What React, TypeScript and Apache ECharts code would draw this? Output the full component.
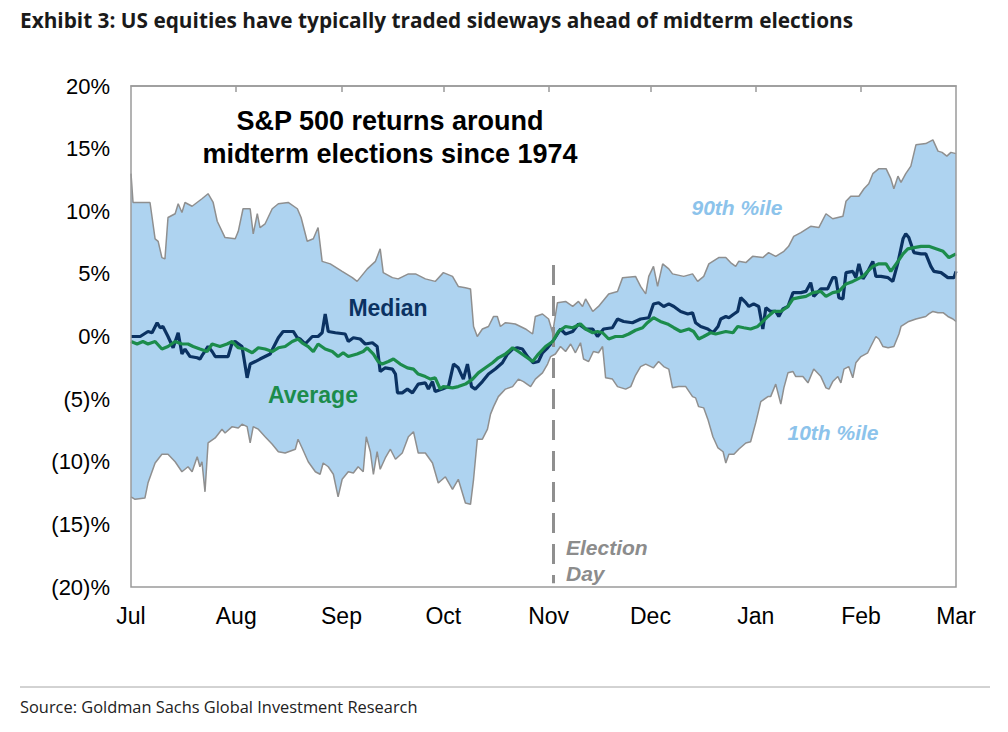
import React, { useEffect, useRef } from "react";
import * as echarts from "echarts";

// x values are calendar days counted from 1 July; y values are % returns
const monthDays = [0, 31, 62, 92, 123, 153, 184, 215, 243];
const monthNames = ["Jul", "Aug", "Sep", "Oct", "Nov", "Dec", "Jan", "Feb", "Mar"];
const electionDay = 124.4;
const electionTop = 5.7;
const electionBottom = -19.7;

const p90: [number, number][] = [
  [0, 13.0], [0.6, 10.7], [5.6, 10.7], [7.1, 7.8], [8.0, 7.6], [9.1, 6.3], [10.0, 6.2], [10.9, 9.5], [13.0, 9.8], [13.9, 10.6],
  [15.0, 9.9], [15.9, 10.7], [18.0, 10.4], [20.9, 11.0], [22.7, 11.4], [24.2, 10.7], [25.4, 9.2], [27.7, 7.9], [30.7, 7.8], [31.6, 8.4],
  [33.0, 10.2], [35.1, 10.2], [36.0, 8.2], [37.2, 9.8], [38.0, 8.7], [39.5, 9.0], [41.6, 10.2], [43.4, 10.6], [46.3, 10.7], [49.0, 10.2],
  [50.1, 9.5], [51.9, 7.6], [53.7, 7.8], [55.1, 8.7], [56.3, 6.0], [58.7, 5.8], [62.2, 5.2], [65.2, 4.7], [66.6, 4.4], [69.6, 5.4],
  [72.0, 6.0], [73.4, 7.0], [74.3, 5.1], [77.0, 4.7], [78.7, 4.6], [81.7, 5.0], [83.8, 5.0], [86.7, 4.6], [89.6, 4.4], [92.0, 5.1],
  [94.7, 4.8], [96.4, 4.0], [98.5, 3.9], [100.0, 3.8], [100.9, 0.8], [102.0, 0.0], [103.5, 0.6], [105.3, 0.8], [106.8, 1.6], [107.9, 1.6],
  [108.8, 0.8], [110.3, 1.1], [113.2, 1.0], [116.2, 0.6], [118.3, 0.2], [119.1, 1.6], [121.2, 1.8], [123.0, 1.4], [124.2, 0.3], [125.6, 2.7],
  [128.0, 2.8], [130.1, 2.4], [131.8, 2.8], [133.0, 2.4], [133.9, 3.0], [136.0, 2.0], [137.7, 2.4], [140.7, 3.4], [143.3, 3.6], [144.8, 4.7],
  [148.6, 4.8], [150.1, 4.0], [151.6, 3.4], [152.5, 4.8], [153.9, 5.6], [155.1, 4.0], [156.6, 5.8], [158.4, 5.4], [159.5, 5.0], [162.8, 4.8],
  [165.4, 5.0], [166.9, 4.4], [168.7, 4.8], [170.2, 5.8], [173.1, 6.3], [175.2, 6.3], [176.6, 5.9], [178.1, 5.6], [179.0, 6.0], [181.1, 5.9],
  [183.1, 6.4], [186.1, 6.3], [187.8, 6.7], [189.9, 6.4], [192.3, 6.8], [193.7, 7.2], [195.2, 8.0], [197.3, 8.3], [200.2, 8.8], [202.6, 8.7],
  [204.7, 9.8], [206.7, 9.4], [209.7, 9.6], [210.6, 10.8], [212.0, 11.2], [214.4, 11.2], [215.9, 11.8], [217.3, 12.2], [218.5, 13.0], [220.3, 13.4],
  [222.4, 13.4], [223.8, 12.6], [224.7, 11.8], [225.9, 12.8], [226.8, 12.3], [228.2, 13.0], [229.7, 13.6], [231.2, 15.3], [234.1, 15.4], [236.2, 15.7],
  [237.7, 14.8], [238.9, 14.7], [240.3, 14.4], [241.5, 14.7], [243, 14.6],
];

const p10: [number, number][] = [
  [0, -12.8], [1.2, -13.0], [4.1, -12.9], [5.0, -11.7], [7.1, -10.1], [9.1, -9.4], [10.9, -9.4], [13.0, -10.0], [15.0, -10.8], [16.8, -10.4],
  [18.0, -10.8], [19.5, -9.6], [20.3, -10.4], [20.9, -10.0], [21.8, -12.4], [22.7, -8.5], [24.8, -8.1], [26.8, -7.4], [27.7, -7.7], [29.8, -7.2],
  [31.6, -7.3], [32.7, -7.0], [34.2, -7.2], [35.1, -8.5], [36.0, -7.2], [37.5, -7.4], [39.5, -8.0], [41.6, -8.6], [43.4, -9.2], [45.4, -9.3],
  [48.4, -9.0], [49.2, -8.2], [50.4, -8.9], [52.2, -10.0], [54.3, -10.8], [55.7, -11.0], [56.6, -10.1], [58.1, -10.4], [59.6, -11.0], [61.0, -12.8],
  [62.2, -11.4], [64.0, -10.8], [65.5, -10.9], [66.9, -10.4], [68.4, -10.8], [69.3, -8.0], [70.5, -9.2], [71.4, -11.0], [72.5, -9.2], [73.4, -10.6],
  [74.9, -9.7], [76.4, -9.0], [77.9, -9.8], [79.9, -9.3], [81.7, -8.0], [83.2, -7.6], [84.6, -9.3], [86.7, -9.3], [88.8, -10.1], [90.5, -11.7],
  [92.6, -11.2], [94.7, -12.2], [96.4, -11.4], [98.5, -13.3], [100.0, -13.4], [100.9, -11.4], [102.0, -8.2], [103.5, -8.2], [105.0, -7.4], [105.9, -6.2],
  [106.8, -5.6], [108.2, -4.8], [110.3, -4.2], [112.4, -4.0], [114.1, -3.4], [115.6, -3.6], [117.7, -4.0], [119.1, -3.4], [121.2, -2.9], [122.7, -2.2],
  [123.6, -1.6], [125.0, -1.4], [126.5, -0.8], [128.0, -1.2], [129.5, -0.6], [130.9, -1.3], [132.4, -0.5], [133.3, -1.8], [134.8, -2.0], [136.2, -1.2],
  [137.7, -1.3], [138.9, -0.8], [139.8, -3.3], [141.8, -3.4], [143.3, -4.0], [145.7, -4.2], [147.2, -4.0], [148.6, -3.1], [150.1, -2.4], [151.6, -2.2],
  [153.9, -2.5], [155.4, -2.0], [156.9, -2.4], [158.4, -2.6], [159.5, -4.1], [161.3, -4.0], [163.4, -4.0], [165.4, -4.8], [166.3, -4.9], [167.2, -5.6],
  [168.7, -5.7], [169.9, -6.6], [171.4, -8.0], [172.9, -8.9], [174.4, -9.2], [175.2, -10.1], [176.1, -9.4], [177.6, -9.4], [179.0, -9.0], [181.1, -8.5],
  [182.5, -8.4], [184.0, -6.9], [185.5, -5.2], [187.6, -4.8], [188.4, -4.8], [189.9, -3.8], [191.4, -5.4], [192.3, -4.1], [193.5, -2.9], [195.0, -2.8],
  [195.8, -3.2], [197.9, -3.2], [199.4, -3.7], [201.1, -2.6], [203.2, -3.2], [204.7, -4.1], [205.6, -4.2], [206.7, -3.6], [208.2, -3.2], [209.1, -3.7],
  [210.0, -2.6], [211.4, -2.4], [212.6, -3.3], [213.5, -2.1], [215.0, -1.6], [217.0, -1.3], [217.9, -0.8], [219.4, 0.0], [220.3, -0.2], [221.5, -0.8],
  [223.0, -0.9], [224.7, -0.8], [226.2, 0.2], [226.8, 0.8], [229.1, 1.2], [231.2, 1.4], [234.1, 1.6], [235.0, 1.8], [236.2, 2.0], [237.7, 1.9],
  [239.2, 1.9], [240.6, 1.6], [242.1, 1.4], [243, 1.2],
];

const median: [number, number][] = [
  [0, 0.0], [2.7, 0.0], [5.0, 0.4], [6.2, 0.3], [7.7, 1.1], [8.6, 0.7], [9.4, 0.8], [10.9, 0.0], [12.4, -0.9], [13.9, 0.3],
  [15.0, -1.4], [15.9, -1.0], [17.4, -1.6], [19.5, -1.7], [20.3, -1.8], [21.2, -1.4], [22.7, -0.8], [23.9, -1.2], [24.8, -1.6], [28.6, -1.6],
  [29.8, -0.5], [30.7, -0.4], [32.7, -0.8], [34.2, -3.3], [35.1, -2.2], [36.6, -2.0], [38.0, -1.8], [39.5, -1.6], [41.0, -1.4], [41.9, -0.9],
  [43.4, -0.1], [44.8, 0.4], [47.8, 0.4], [49.0, -0.1], [49.8, -0.2], [51.3, -0.6], [53.4, 0.0], [55.1, 0.0], [56.3, 0.3], [57.2, 1.8],
  [58.1, 0.4], [60.2, 0.3], [63.1, 0.2], [64.0, -0.4], [65.5, -0.1], [67.5, -0.2], [69.0, -0.6], [71.1, -0.5], [72.5, -0.8], [73.4, -2.8],
  [74.9, -2.5], [77.0, -2.6], [77.9, -3.0], [78.5, -4.5], [79.9, -4.5], [81.4, -4.2], [82.9, -4.5], [84.6, -3.8], [86.7, -3.7], [87.6, -4.2],
  [88.8, -3.6], [89.6, -4.4], [91.7, -4.2], [93.5, -4.0], [95.0, -2.2], [96.4, -2.5], [97.9, -3.4], [99.1, -2.2], [100.3, -4.0], [101.4, -4.2],
  [103.5, -3.6], [105.3, -3.0], [107.3, -2.6], [109.4, -2.1], [110.9, -1.4], [112.4, -1.0], [113.8, -0.9], [115.3, -1.0], [116.8, -1.6], [118.5, -2.1],
  [120.0, -2.0], [121.2, -1.3], [122.7, -0.9], [124.2, -0.4], [125.6, 0.2], [126.5, 0.6], [128.0, 0.2], [130.1, 0.4], [131.8, 1.0], [133.9, 0.6],
  [136.0, 0.6], [137.4, 0.0], [139.2, 0.6], [141.8, 0.7], [143.3, 1.4], [145.1, 1.2], [147.7, 1.1], [150.1, 1.4], [152.5, 1.5], [153.9, 2.6],
  [155.4, 2.7], [156.9, 2.4], [158.4, 2.6], [159.9, 2.4], [161.9, 2.0], [164.0, 1.8], [165.4, 1.9], [166.3, 1.1], [167.8, 0.8], [169.9, 0.6],
  [171.4, 0.3], [172.9, 0.8], [173.7, 1.4], [175.2, 1.6], [176.1, 1.5], [177.6, 1.8], [178.7, 2.0], [179.6, 3.1], [181.1, 2.7], [182.0, 2.4],
  [183.4, 2.6], [184.9, 2.4], [186.1, 0.6], [187.0, 2.3], [188.4, 2.0], [189.9, 2.0], [190.8, 1.6], [192.0, 2.2], [193.5, 2.4], [195.0, 3.5],
  [197.3, 3.5], [198.8, 3.6], [200.2, 4.3], [201.1, 3.2], [203.2, 3.8], [205.2, 3.8], [206.7, 4.7], [207.6, 4.7], [208.5, 3.1], [209.7, 3.0],
  [210.6, 5.1], [212.6, 5.2], [213.5, 4.7], [214.4, 5.8], [215.6, 4.6], [217.0, 5.2], [218.5, 6.0], [219.4, 4.8], [220.9, 4.8], [223.0, 4.7],
  [224.4, 4.4], [225.9, 5.9], [227.4, 7.8], [228.2, 8.2], [229.1, 7.9], [230.6, 6.7], [232.7, 6.6], [234.1, 6.6], [235.6, 5.6], [236.5, 5.2],
  [238.6, 5.1], [240.6, 4.7], [242.4, 4.7], [243, 5.2],
];

const average: [number, number][] = [
  [0, -0.4], [1.8, -0.6], [3.5, -0.4], [5.0, -0.6], [7.1, -0.4], [9.1, -1.0], [10.9, -0.8], [13.0, -0.4], [15.0, -0.6], [16.8, -0.6],
  [18.3, -0.8], [20.3, -1.0], [22.4, -1.2], [23.9, -0.6], [26.2, -0.8], [28.3, -0.6], [29.8, -0.4], [31.6, -0.9], [33.6, -1.0], [35.7, -1.3],
  [37.5, -0.9], [39.5, -1.0], [41.6, -1.2], [43.4, -0.9], [45.4, -0.8], [47.5, -0.4], [49.2, -0.2], [50.4, -0.5], [52.2, -0.8], [53.7, -1.2],
  [55.1, -0.6], [57.2, -1.0], [59.3, -1.2], [61.0, -1.6], [62.5, -1.3], [64.0, -1.6], [66.6, -1.4], [68.4, -1.2], [69.6, -0.9], [71.4, -1.4],
  [72.8, -2.0], [74.0, -2.2], [75.8, -2.0], [77.3, -1.8], [79.3, -2.2], [81.4, -2.5], [83.2, -2.6], [84.6, -3.0], [86.7, -3.2], [88.2, -3.4],
  [89.6, -3.3], [91.1, -4.2], [92.0, -4.0], [94.7, -4.1], [96.4, -4.0], [98.5, -3.8], [100.6, -3.4], [102.3, -2.9], [104.4, -2.5], [106.5, -2.1],
  [108.2, -1.7], [110.3, -1.4], [112.4, -0.9], [114.1, -1.2], [116.2, -1.6], [118.3, -2.0], [120.0, -1.4], [122.1, -0.8], [124.2, -0.4], [125.9, 0.4],
  [128.0, 0.8], [130.1, 0.7], [132.4, 1.0], [133.9, 0.6], [136.0, 0.3], [137.4, 0.4], [138.9, 0.3], [140.7, -0.2], [142.7, 0.0], [144.8, 0.0],
  [146.6, 0.2], [148.6, 0.5], [150.7, 0.7], [152.1, 1.1], [153.9, 1.5], [155.9, 1.2], [158.0, 1.0], [159.9, 0.7], [161.9, 0.4], [164.3, 0.6],
  [165.7, 0.4], [167.2, -0.2], [168.7, 0.0], [170.7, 0.3], [172.2, 0.2], [173.7, 0.3], [175.2, 0.4], [177.3, 0.3], [178.7, 0.8], [180.5, 0.7],
  [182.5, 0.6], [184.6, 0.8], [186.1, 1.2], [187.6, 1.6], [189.3, 2.0], [191.4, 2.0], [193.5, 2.4], [195.0, 3.0], [196.7, 3.1], [198.8, 3.2],
  [200.9, 3.5], [203.2, 3.6], [204.7, 3.2], [206.7, 3.5], [208.5, 3.6], [210.6, 4.2], [212.6, 4.4], [214.1, 4.6], [215.6, 4.8], [217.0, 5.2],
  [218.5, 5.6], [220.3, 5.8], [222.4, 5.8], [223.8, 5.2], [225.9, 6.0], [227.4, 6.6], [228.8, 7.0], [230.6, 7.1], [232.7, 7.2], [235.0, 7.2],
  [237.1, 7.0], [239.2, 6.8], [240.9, 6.3], [243, 6.6],
];

const fmtPct = (v: number) => (v >= 0 ? `${v}%` : `(${-v})%`);

const AXIS_FONT = '"Liberation Sans", Arial, Helvetica, sans-serif';
const HEAD_FONT = '"Open Sans", Lato, sans-serif';
const GRAY = "#8f8f8f";

export default function App() {
  const ref = useRef<HTMLDivElement>(null);

  useEffect(() => {
    if (!ref.current) return;
    const chart = echarts.init(ref.current, undefined, { renderer: "svg" });

    const option: any = {
      animation: false,
      backgroundColor: "#ffffff",
      grid: {
        left: 131,
        right: 52,
        top: 86,
        bottom: 145,
        show: true,
        borderColor: "#9a9a9a",
        borderWidth: 1.5,
        backgroundColor: "transparent",
        z: 6,
      },
      xAxis: [
        {
          type: "value",
          min: 0,
          max: 243,
          position: "bottom",
          axisLine: { show: false },
          axisTick: { show: false },
          splitLine: { show: false },
          axisLabel: {
            customValues: monthDays,
            formatter: (v: number) => {
              const i = monthDays.indexOf(v);
              return i >= 0 ? monthNames[i] : "";
            },
            fontSize: 23,
            color: "#000",
            fontFamily: AXIS_FONT,
            margin: 17,
          },
        },
        {
          type: "value",
          min: 0,
          max: 243,
          position: "top",
          z: 3,
          axisLine: { show: true, onZero: true, lineStyle: { color: "#9a9a9a", width: 1.5 } },
          axisTick: {
            show: true,
            inside: true,
            length: 6,
            customValues: monthDays.slice(1, -1),
            lineStyle: { color: "#9a9a9a", width: 1.5 },
          },
          axisLabel: { show: false },
          splitLine: { show: false },
        },
      ],
      yAxis: {
        type: "value",
        min: -20,
        max: 20,
        interval: 5,
        axisLine: { show: false },
        axisTick: { show: false },
        splitLine: { show: false },
        axisLabel: {
          formatter: fmtPct,
          fontSize: 22,
          color: "#000",
          fontFamily: AXIS_FONT,
          margin: 21,
        },
      },
      series: [
        {
          type: "custom",
          name: "band",
          xAxisIndex: 0,
          yAxisIndex: 0,
          z: 1,
          silent: true,
          clip: true,
          data: [[0, 0]],
          renderItem: (_params: any, api: any) => {
            const pts = [
              ...p90.map((p) => api.coord(p)),
              ...p10.slice().reverse().map((p) => api.coord(p)),
            ];
            return {
              type: "polygon",
              shape: { points: pts },
              style: { fill: "#aed3f0", stroke: "none" },
            };
          },
        },
        {
          type: "line",
          name: "90th %ile",
          xAxisIndex: 0,
          data: p90,
          showSymbol: false,
          z: 2,
          lineStyle: { color: GRAY, width: 1.5 },
        },
        {
          type: "line",
          name: "10th %ile",
          xAxisIndex: 0,
          data: p10,
          showSymbol: false,
          z: 2,
          lineStyle: { color: GRAY, width: 1.5 },
          markLine: {
            silent: true,
            symbol: "none",
            label: { show: false },
            lineStyle: { color: GRAY, width: 3, type: [20, 11] },
            data: [[{ coord: [electionDay, electionTop] }, { coord: [electionDay, electionBottom] }]],
          },
        },
        {
          type: "line",
          name: "Median",
          xAxisIndex: 0,
          data: median,
          showSymbol: false,
          z: 4,
          lineStyle: { color: "#0b3262", width: 3.2 },
        },
        {
          type: "line",
          name: "Average",
          xAxisIndex: 0,
          data: average,
          showSymbol: false,
          z: 5,
          lineStyle: { color: "#1c8c4c", width: 3.2 },
        },
      ],
      graphic: [
        {
          type: "text",
          x: 20,
          y: 20,
          style: {
            text: "Exhibit 3: US equities have typically traded sideways ahead of midterm elections",
            font: `700 20.8px ${HEAD_FONT}`,
            fill: "#1a1a1a",
            align: "left",
            verticalAlign: "middle",
          },
        },
        {
          type: "line",
          shape: { x1: 20, y1: 687, x2: 990, y2: 687 },
          style: { stroke: "#a6a6a6", lineWidth: 1 },
        },
        {
          type: "text",
          x: 20,
          y: 706,
          style: {
            text: "Source: Goldman Sachs Global Investment Research",
            font: `400 16.4px ${HEAD_FONT}`,
            fill: "#222",
            align: "left",
            verticalAlign: "middle",
          },
        },
        {
          type: "text",
          x: 390,
          y: 121,
          z: 10,
          style: {
            text: "S&P 500 returns around",
            font: `bold 27px ${AXIS_FONT}`,
            fill: "#000",
            align: "center",
            verticalAlign: "middle",
          },
        },
        {
          type: "text",
          x: 390,
          y: 154,
          z: 10,
          style: {
            text: "midterm elections since 1974",
            font: `bold 27px ${AXIS_FONT}`,
            fill: "#000",
            align: "center",
            verticalAlign: "middle",
          },
        },
        {
          type: "text",
          x: 388,
          y: 308,
          z: 10,
          style: {
            text: "Median",
            font: `bold 23px ${AXIS_FONT}`,
            fill: "#0b3262",
            align: "center",
            verticalAlign: "middle",
          },
        },
        {
          type: "text",
          x: 313,
          y: 395,
          z: 10,
          style: {
            text: "Average",
            font: `bold 23px ${AXIS_FONT}`,
            fill: "#1c8c4c",
            align: "center",
            verticalAlign: "middle",
          },
        },
        {
          type: "text",
          x: 737,
          y: 207,
          z: 10,
          style: {
            text: "90th %ile",
            font: `italic bold 21px ${AXIS_FONT}`,
            fill: "#8cc3eb",
            align: "center",
            verticalAlign: "middle",
          },
        },
        {
          type: "text",
          x: 833,
          y: 432,
          z: 10,
          style: {
            text: "10th %ile",
            font: `italic bold 21px ${AXIS_FONT}`,
            fill: "#8cc3eb",
            align: "center",
            verticalAlign: "middle",
          },
        },
        {
          type: "text",
          x: 566,
          y: 547,
          z: 10,
          style: {
            text: "Election",
            font: `italic bold 21px ${AXIS_FONT}`,
            fill: "#8c8c8c",
            align: "left",
            verticalAlign: "middle",
          },
        },
        {
          type: "text",
          x: 566,
          y: 573,
          z: 10,
          style: {
            text: "Day",
            font: `italic bold 21px ${AXIS_FONT}`,
            fill: "#8c8c8c",
            align: "left",
            verticalAlign: "middle",
          },
        },
      ],
    };

    chart.setOption(option);
    return () => chart.dispose();
  }, []);

  return (
    <div
      ref={ref}
      style={{ position: "absolute", left: 0, top: 0, width: 1008, height: 732, background: "#fff" }}
    />
  );
}
